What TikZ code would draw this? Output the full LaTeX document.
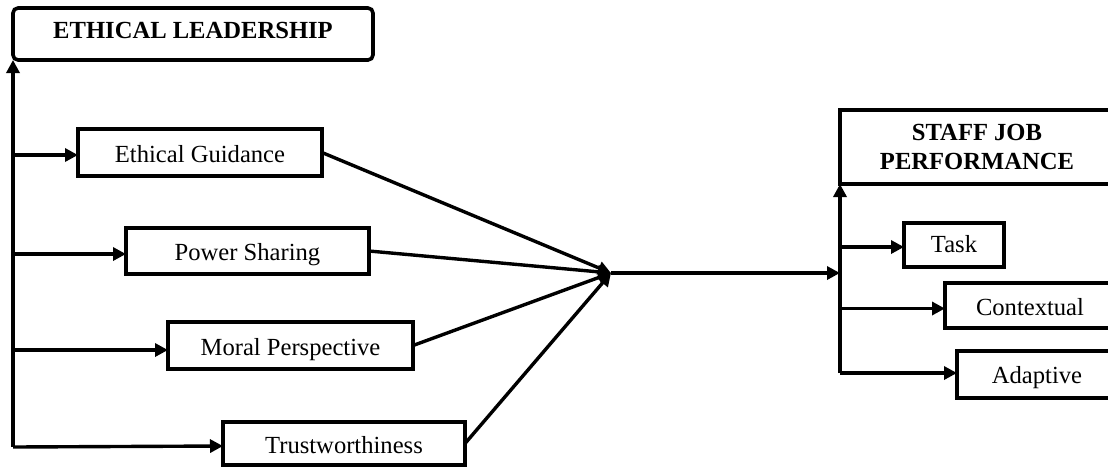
\documentclass[tikz,border=0pt]{standalone}
\usepackage{fontspec}
\setmainfont{Liberation Serif}
\usetikzlibrary{arrows.meta}
\begin{document}
\begin{tikzpicture}[x=0.5pt,y=-0.5pt,
  frame/.style={draw,line width=1.8pt,inner sep=0pt,outer sep=0pt,
    font=\fontsize{12.3}{14.5}\selectfont},
  box/.style={frame,text height=0.662em+3pt,text depth=0pt},
  headbox/.style={box,font=\fontsize{12.3}{14.5}\selectfont\bfseries},
  arr/.style={line width=1.7pt,-{Triangle[length=6.5pt,width=6.5pt]}}]
\useasboundingbox (0,0) rectangle (1108,468);
\clip (0,0) rectangle (1108,468);
% left side
\node[headbox,rounded corners=2.5pt,minimum width=180pt,minimum height=26pt,
  text height=0.662em,text depth=2.5pt] (EL) at (193,34) {ETHICAL LEADERSHIP};
\node[box,minimum width=122pt,minimum height=23.5pt] (EG) at (200,152.5) {Ethical Guidance};
\node[box,minimum width=121.5pt,minimum height=23pt] (PS) at (247.5,251) {Power Sharing};
\node[box,minimum width=122.5pt,minimum height=23.5pt] (MP) at (290.5,345.5) {Moral Perspective};
\node[box,minimum width=121pt,minimum height=21.5pt] (TW) at (344,443.5) {Trustworthiness};
% right side
\node[frame,font=\fontsize{12.3}{14.5}\selectfont\bfseries,minimum width=137pt,minimum height=37pt,align=center] (SJ) at (977,147) {STAFF JOB\\PERFORMANCE};
\node[box,minimum width=50pt,minimum height=22pt,text height=0.662em+1pt] (TK) at (954,245) {Task};
\node[box,minimum width=85pt,minimum height=22.5pt] (CX) at (1030,305.5) {Contextual};
\node[box,minimum width=80pt,minimum height=23.5pt,text height=0.662em+2.5pt] (AD) at (1037,374.5) {Adaptive};
% coordinates
\coordinate (lb) at (13,447);
\coordinate (cv) at (611,273);
\coordinate (rb) at (840,373);
\path ([yshift=-1.25pt]EG.west) coordinate (egin)
      ([yshift=-1.5pt]PS.west) coordinate (psin)
      ([yshift=-2.25pt]MP.west) coordinate (mpin)
      ([yshift=-1.25pt]TW.west) coordinate (twin)
      ([yshift=-1pt]TK.west) coordinate (tkin)
      ([yshift=-1.5pt]CX.west) coordinate (cxin);
% left trunk
\draw[arr] (lb) -- (EL.south west);
\draw[arr] (lb |- egin) -- (egin);
\draw[arr] (lb |- psin) -- (psin);
\draw[arr] (lb |- mpin) -- (mpin);
\draw[arr] (lb) -- (twin);
% convergence
\draw[arr] (EG.east) -- (cv);
\draw[arr] (PS.east) -- (cv);
\draw[arr] (MP.east) -- (cv);
\draw[arr] (TW.east) -- (cv);
\draw[arr] (cv) -- (cv -| rb);
% right trunk
\draw[arr] (rb) -- (SJ.south west);
\draw[arr] (rb |- tkin) -- (tkin);
\draw[arr] (rb |- cxin) -- (cxin);
\draw[arr] (rb) -- (rb -| AD.west);
\end{tikzpicture}
\end{document}
